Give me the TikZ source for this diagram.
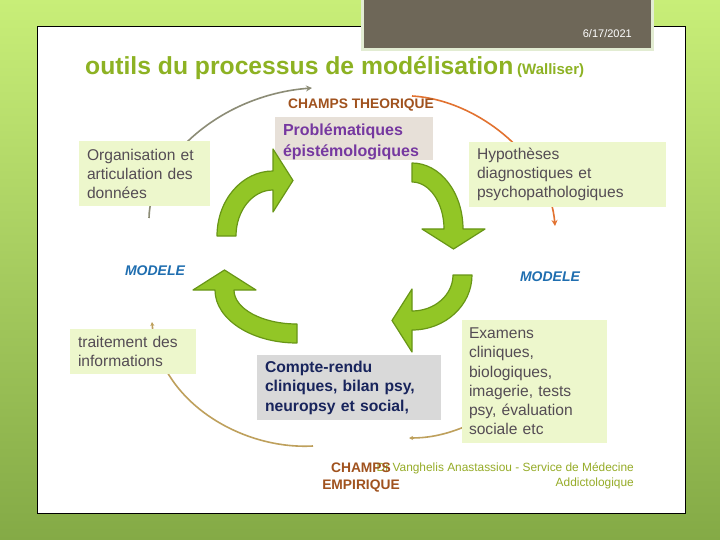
\documentclass[tikz,border=0pt]{standalone}
\usepackage{fontspec}
\setmainfont{Liberation Sans}
\usetikzlibrary{arrows.meta}

\definecolor{bgtop}{RGB}{200,238,120}
\definecolor{bgbottom}{RGB}{132,170,70}
\definecolor{headfill}{RGB}{110,103,88}
\definecolor{headedge}{RGB}{226,236,210}
\definecolor{titlegreen}{RGB}{141,178,35}
\definecolor{champbrown}{RGB}{160,82,30}
\definecolor{modeleblue}{RGB}{31,110,176}
\definecolor{boxgreen}{RGB}{237,247,204}
\definecolor{boxbeige}{RGB}{231,224,216}
\definecolor{boxgray}{RGB}{217,217,217}
\definecolor{boxtext}{RGB}{84,76,84}
\definecolor{probpurple}{RGB}{118,56,160}
\definecolor{comptenavy}{RGB}{24,36,92}
\definecolor{arrowgreen}{RGB}{146,198,38}
\definecolor{arrowedge}{RGB}{104,150,22}
\definecolor{arcgray}{RGB}{140,140,118}
\definecolor{arcorange}{RGB}{226,114,48}
\definecolor{arctan}{RGB}{190,160,92}
\definecolor{signgreen}{RGB}{150,172,40}

\tikzset{
  box/.style={rectangle, inner xsep=8pt, inner ysep=0pt, align=left,
    font=\fontsize{15.6}{19}\selectfont, text=boxtext},
  greenbox/.style={box, fill=boxgreen},
  champs/.style={font=\bfseries\fontsize{13.8}{17}\selectfont, text=champbrown, align=center},
  modele/.style={font=\bfseries\itshape\fontsize{14}{16}\selectfont, text=modeleblue},
  cyclearc/.style={line width=1.6pt, -{Stealth[length=6pt,width=6pt]}},
  turn/.style={fill=arrowgreen, draw=arrowedge, line width=1.2pt, line join=round}
}

\newcommand\turnarrow[4]{%
  \begin{scope}[shift={#1}, rotate=#2]
    \draw[turn] (-#3,0) arc[start angle=180, end angle=90, x radius=#3, y radius=#4]
      -- (0,{#4+22}) -- (20,{#4-9.5}) -- (0,{#4-41}) -- (0,{#4-19})
      arc[start angle=90, end angle=180, x radius={#3-19}, y radius={#4-19}] -- cycle;
  \end{scope}}

\begin{document}
\begin{tikzpicture}[x=1pt, y=1pt]
  \useasboundingbox (0,0) rectangle (720,-540);
  \shade[top color=bgtop, bottom color=bgbottom] (0,0) rectangle (720,-540);
  \draw[fill=white, line width=0.8pt] (37,-26) rectangle (685,-513);
  \draw[fill=headfill, draw=headedge, line width=3pt] (362,4) rectangle (652,-50);
  \node[anchor=base east, text=white, font=\fontsize{11}{13}\selectfont, inner sep=0pt] (date) at (632,-38) {6/17/2021};

  \node[anchor=base west, text=titlegreen, font=\bfseries\fontsize{24.7}{28}\selectfont, inner sep=0pt] (title) at (85,-75) {outils du processus de modélisation};
  \node[anchor=base west, text=titlegreen, font=\bfseries\fontsize{15}{17}\selectfont, inner sep=0pt] (auteur) at (517,-75) {(Walliser)};

  \coordinate (grayA) at (149,-218);
  \coordinate (grayB) at (312,-88);
  \coordinate (orangeA) at (412,-96);
  \coordinate (orangeB) at (555,-226);
  \coordinate (tanA) at (313,-446);
  \coordinate (tanB) at (152,-322);
  \coordinate (tanC) at (464,-427);
  \coordinate (tanD) at (409,-438);
  \draw[cyclearc, arcgray] (grayA) .. controls (150,-160) and (220,-95) .. (grayB);
  \draw[cyclearc, arcorange] (orangeA) .. controls (480,-100) and (550,-160) .. (orangeB);
  \draw[cyclearc, arctan, -{Stealth[length=4pt,width=4pt]}] (tanA) .. controls (240,-450) and (158,-400) .. (tanB);
  \draw[cyclearc, arctan, -{Stealth[length=4pt,width=4pt]}] (tanC) .. controls (442,-436) and (425,-438) .. (tanD);

  \node[champs] (theo) at (361,-105) {CHAMPS THEORIQUE};
  \fill[boxbeige] (275,-117) rectangle (433,-160);
  \node[box, text=probpurple, font=\bfseries\fontsize{16}{21}\selectfont,
    text width=142pt] (prob) at (354,-141.5) {Problématiques\\épistémologiques};
  \node[greenbox, text width=115pt, minimum height=65pt] (orga) at (144.5,-173.5) {Organisation et\\articulation des\\données};
  \node[greenbox, text width=181pt, minimum height=65pt] (hypo) at (567.5,-174.5) {Hypothèses\\diagnostiques et\\psychopathologiques};
  \node[modele] (modeleG) at (155,-271) {MODELE};
  \node[modele] (modeleD) at (550,-277) {MODELE};
  \node[greenbox, text width=110pt, minimum height=45pt] (trait) at (133,-351.5) {traitement des\\informations};
  \node[box, fill=boxgray, text=comptenavy, font=\bfseries\fontsize{15.7}{19.5}\selectfont,
    text width=168pt, minimum height=65pt] (compte) at (349,-387.5) {Compte-rendu\\cliniques, bilan psy,\\neuropsy et social,};
  \node[greenbox, inner xsep=7pt, text width=131pt, minimum height=123pt, font=\fontsize{15.6}{19.2}\selectfont] (exam) at (534.5,-381.5) {Examens\\cliniques,\\biologiques,\\imagerie, tests\\psy, évaluation\\sociale etc};

  \turnarrow{(273,-236)}{0}{56}{65}
  \turnarrow{(412,-229)}{-90}{66}{51}
  \turnarrow{(412,-275)}{180}{60}{55}
  \turnarrow{(297,-290)}{90}{53}{82}

  \node[anchor=east, align=right, text=signgreen, font=\fontsize{11.9}{15}\selectfont, inner sep=0pt] (sign) at (634,-475.5) {Dr Vanghelis Anastassiou - Service de Médecine\\Addictologique};
  \node[champs] (empi) at (361,-477.5) {CHAMPS\\EMPIRIQUE};
\end{tikzpicture}
\end{document}
